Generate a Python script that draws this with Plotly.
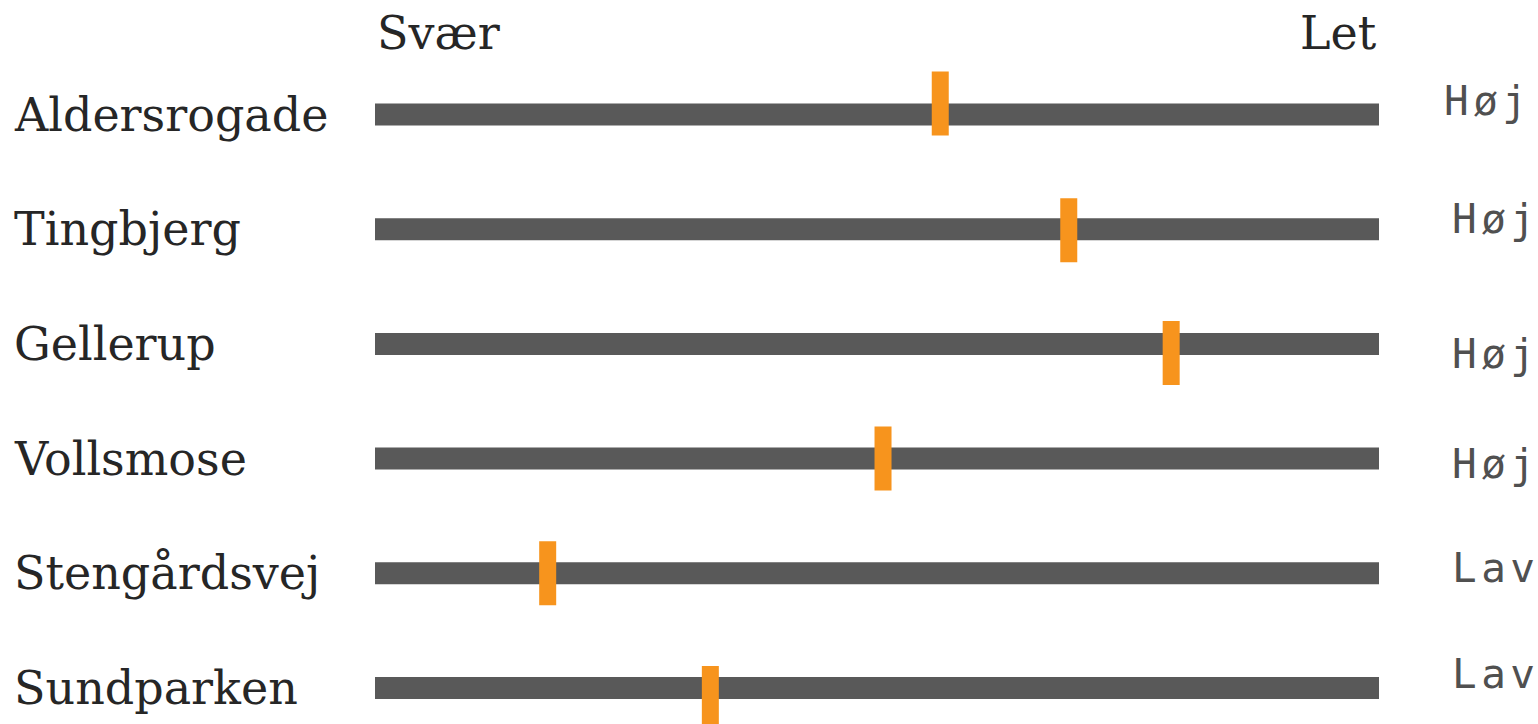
import plotly.graph_objects as go

# data
omraader = ['Aldersrogade', 'Tingbjerg', 'Gellerup', 'Vollsmose', 'Stengårdsvej', 'Sundparken']
score = [56.3, 69.1, 79.3, 50.6, 17.2, 33.4]
niveau = ['Høj', 'Høj', 'Høj', 'Høj', 'Lav', 'Lav']
skala_min, skala_max = 'Svær', 'Let'

# layout tweaks (pixels)
row_px = 114.7
first_row_px = 114.5
marker_nudge = [-11, 1, 9, 0, 0, 10]
niveau_nudge = [14, 10, -10, -5, 5, 14]
niveau_x = [1442, 1450, 1450, 1450, 1450, 1450]

W, H = 1538, 724
L, R = 375, 1379
pos = list(range(len(omraader)))

fig = go.Figure()

fig.add_trace(go.Bar(
    x=[100] * len(omraader),
    y=pos,
    orientation='h',
    width=22 / row_px,
    marker=dict(color='#595959', line=dict(width=0)),
    hoverinfo='skip',
))

fig.add_trace(go.Scatter(
    x=score,
    y=[p + d / row_px for p, d in zip(pos, marker_nudge)],
    mode='markers',
    marker=dict(symbol='line-ns', size=64 / 1.4, color='#F7941D',
                line=dict(width=17, color='#F7941D')),
    text=omraader,
    hovertemplate='%{text}: %{x}<extra></extra>',
))

serif = 'DejaVu Serif'
mono = 'DejaVu Sans Mono'

for p, navn in zip(pos, omraader):
    fig.add_annotation(x=(12 - L) / (R - L), xref='paper', y=p, yref='y',
                       text=navn, showarrow=False, xanchor='left', yanchor='middle',
                       font=dict(family=serif, size=46, color='#262626'))

for p, niv, dy, nx in zip(pos, niveau, niveau_nudge, niveau_x):
    fig.add_annotation(x=(nx - L) / (R - L), xref='paper', y=p, yref='y', yshift=dy,
                       text=f'<span style="letter-spacing:4.5px">{niv}</span>',
                       showarrow=False, xanchor='left', yanchor='middle',
                       font=dict(family=mono, size=41, color='#505050'))

fig.add_annotation(x=0, xref='paper', y=(H - 33) / H, yref='paper', text=skala_min,
                   showarrow=False, xanchor='left', yanchor='middle',
                   font=dict(family=serif, size=46, color='#262626'))
fig.add_annotation(x=1, xref='paper', y=(H - 33) / H, yref='paper', text=skala_max,
                   showarrow=False, xanchor='right', yanchor='middle',
                   font=dict(family=serif, size=46, color='#262626'))

top = -first_row_px / row_px
bottom = (H - first_row_px) / row_px
fig.update_layout(
    width=W, height=H,
    margin=dict(l=L, r=W - R, t=0, b=0),
    plot_bgcolor='white', paper_bgcolor='white',
    showlegend=False,
    xaxis=dict(range=[0, 100], visible=False, fixedrange=True),
    yaxis=dict(range=[bottom, top], visible=False, fixedrange=True),
)

fig.write_html("out.html", config={'displayModeBar': False},
               post_script="document.body.style.margin='0';")
